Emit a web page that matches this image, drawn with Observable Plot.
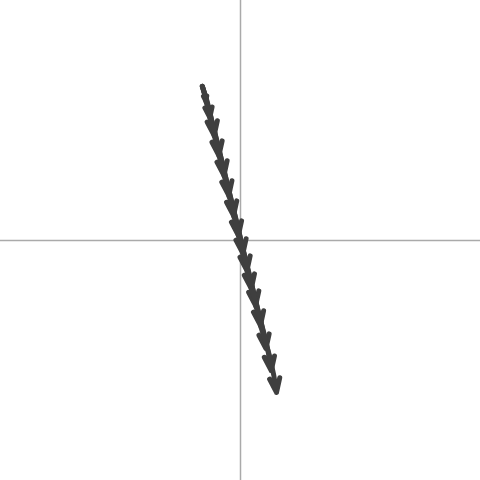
<!DOCTYPE html>
<html>
<head>
<meta charset="utf-8">
<script src="https://cdn.jsdelivr.net/npm/d3@7"></script>
<script src="https://cdn.jsdelivr.net/npm/@observablehq/plot@0.6"></script>
<style>
  html, body { margin: 0; padding: 0; background: #fff; }
</style>
</head>
<body>
<div id="chart"></div>
<script>
const xs = [-0.159, -0.145, -0.128, -0.110, -0.090, -0.069, -0.049, -0.029, -0.009, 0.010, 0.027, 0.045, 0.063, 0.083, 0.106, 0.128, 0.150];
const ys = [0.642, 0.583, 0.513, 0.438, 0.354, 0.271, 0.188, 0.104, 0.021, -0.054, -0.125, -0.200, -0.271, -0.354, -0.450, -0.542, -0.633];

const segments = xs.slice(1).map((x, k) => {
  const i = k + 1, j = Math.max(0, i - 3);
  return {x1: xs[j], y1: ys[j], x2: x, y2: ys[i]};
});

const chart = Plot.plot({
  width: 480,
  height: 480,
  margin: 0,
  x: {domain: [-1, 1], axis: null},
  y: {domain: [-1, 1], axis: null},
  marks: [
    Plot.ruleX([0], {stroke: "#aaa", strokeWidth: 1.5}),
    Plot.ruleY([0], {stroke: "#aaa", strokeWidth: 1.5}),
    Plot.arrow(segments, {x1: "x1", y1: "y1", x2: "x2", y2: "y2", stroke: "#3f3f3f", strokeWidth: 5, headLength: 4.5, headAngle: 40, bend: 6, strokeLinejoin: "miter"})
  ]
});
document.getElementById("chart").appendChild(chart);
</script>
</body>
</html>
